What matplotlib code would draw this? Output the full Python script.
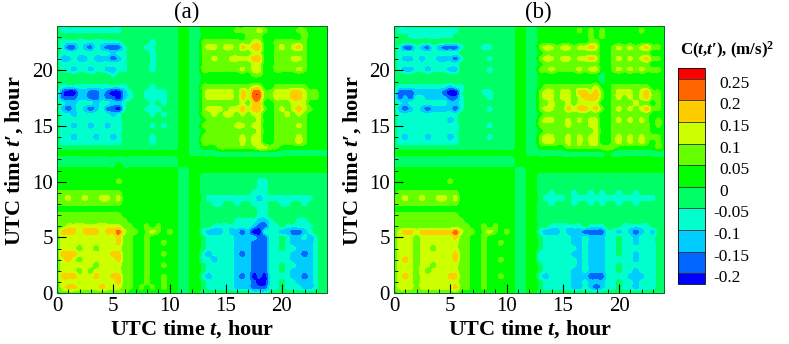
import numpy as np
import matplotlib
matplotlib.use("Agg")
import matplotlib.pyplot as plt
from matplotlib.colors import ListedColormap, BoundaryNorm
from matplotlib.ticker import MultipleLocator
from matplotlib.transforms import ScaledTranslation

plt.rcParams['font.family'] = ['Liberation Serif', 'DejaVu Serif']
plt.rcParams['mathtext.fontset'] = 'custom'
plt.rcParams['mathtext.rm'] = 'Liberation Serif:bold'
plt.rcParams['mathtext.it'] = 'Liberation Serif:italic:bold'
plt.rcParams['mathtext.bf'] = 'Liberation Serif:bold'

# colour class, one row per half hour of t' (0 at the bottom)
# 0 = below -0.2, 1 = -0.2..-0.15, ... 5 = 0..0.05, ... 9 = 0.2..0.25, A = above 0.25
# groups: t 0-7 | 7.5-10.5 | 11-12.5 | 13-24
rows_a = [
    "566666666666655 5555555 4455 44444444433344444444444",
    "678877778777665 6565655 4455 43333322211133433322344",
    "677777777778665 5655655 4455 43333322210033433222344",
    "688877787788665 5655655 4455 32333321201033332212344",
    "677767677777665 5655555 4455 43333322211133432222344",
    "677777767777665 5655655 4455 43333322211133433222344",
    "678767777778665 5655555 4455 33233322211133332222344",
    "688877777788665 5655655 4455 32333321211133332212344",
    "677767767777665 5655555 4455 43333322211133433222344",
    "677777777778665 5655655 4455 43333322211133432222344",
    "677777777778665 5655555 4455 43333322221133432232344",
    "688878887889766 5676565 4455 32223221200333221123444",
    "667777777777665 5656555 4455 44333333321133433333444",
    "666666666666655 5555555 4455 44444433332234444334444",
    "666666666666555 5555555 4455 44444444443344444444444",
    "555555555555555 5555555 4455 44444444443344444444444",
    "666666666666555 5555555 4455 44334434433344334434444",
    "667667667767555 5555555 4455 43333333332333333333444",
    "666666666666555 5555555 4455 44444444433344444444444",
    "555555555555555 5555555 4455 44444444443344444444444",
    "555555555556555 5555555 4455 44444444443344444444444",
    "555555555555555 5555555 4455 44444444444444444444444",
    "555555555555555 5555555 4455 55555555555555555555555",
    "444444444445444 4444444 5555 55555555555555555555555",
    "444444444444444 4444444 5555 55555555555555555555555",
    "555555555555555 5555555 5544 44444444444444444444444",
    "444444444444444 4444444 5544 55566666667766555555555",
    "433333333333444 4434444 5544 66666667677556666765555",
    "433233323323444 4434444 5544 66666667677556666765555",
    "433333333333444 4444444 5544 56666666667556666665555",
    "433233233233444 4434344 5544 66666677677556666765555",
    "433333333333444 4444444 5544 56666666667556666665555",
    "433233333323444 4434344 5544 66767767677556676765555",
    "421232123110344 4333444 5544 67776778788656767876555",
    "432233323322344 4434344 5544 66666667688556667775555",
    "311122112110234 4333344 5544 67777768799667778876655",
    "410022112100234 4333344 5544 67777768799667778876655",
    "433333333333344 4434444 5544 66666666677556666665555",
    "444444444444444 4444444 5544 55555555555555555555555",
    "444444444434444 4444444 5544 55555555566555555555555",
    "433233233223344 4434444 5544 66666667677556666765555",
    "433333333333344 4434444 5544 66666666677556666665555",
    "422322322212344 4434444 5544 66766777788556667765555",
    "433333333323344 4434444 5544 66666666677556666665555",
    "431132132111344 4334444 5544 67767768788556767865555",
    "433333333333444 4434444 5544 66666666677556666665555",
    "444444444444444 4444444 5544 55555555666555555565555",
    "433333333333444 4444444 5544 55555566667655555665555",
    "444444444444444 4444444 5544 55555555666555555555555",
]

rows_b = [
    "566666666666555 5555555 4455 44444444444444444444444",
    "677767777778665 5655555 4455 43333322321233433233344",
    "677767777777665 5655555 4455 43333322322233433233344",
    "678767777788665 5655655 4455 32333322211133332223344",
    "677767677777665 5655555 4455 43333322322233433233344",
    "677767767777665 5655555 4455 43333332322233433333344",
    "678767777778665 5655655 4455 33333332322233333233344",
    "677767777778665 5655555 4455 33333322322233433233344",
    "677767767777665 5655555 4455 43333332322233433333344",
    "677767777777665 5655655 4455 43333322322233433233344",
    "677767777778665 5655555 4455 43333322322233433233344",
    "678878888889766 5676565 4455 32223222111133232123244",
    "666666666666665 5656555 4455 44333333433344433333444",
    "666666666666655 5555555 4455 44444444444444444444444",
    "666666666666555 5555555 4455 44444444444444444444444",
    "555555555555555 5555555 4455 44444444444444444444444",
    "666666666666555 5555555 4455 44344434434344344344444",
    "667667667767555 5555555 4455 43333433333333333333344",
    "566666666666555 5555555 4455 44344434434344344344444",
    "555555555555555 5555555 4455 44444444444444444444444",
    "555555555565555 5555555 4455 44444444444444444444444",
    "555555555555555 5555555 4455 44444444444444444444444",
    "555555555555555 5555555 4455 55555555555555555555555",
    "444444444444444 4444444 5555 55555555555555555555555",
    "444444444444444 4444444 5555 55555555555555555555555",
    "555555555555555 5555555 5544 44444444444454444444444",
    "444444444444444 4444444 5544 55555666666666555555565",
    "433333333333444 4444444 5544 67766767677556767676565",
    "432333233323444 4434444 5544 67766767677556767676665",
    "433333333333444 4444444 5544 56666666667556666666555",
    "433333333333444 4434444 5544 66666766677556666666565",
    "433333333323444 4444444 5544 67766767677556767676565",
    "433333333333444 4444444 5544 56666666666556666666555",
    "421232122221344 4434444 5544 67766878878656767678665",
    "432333333322344 4444444 5544 66766767777556666766565",
    "312133222211344 4434444 5544 67767767888656767678665",
    "411122222100344 4334444 5544 67767768878656777678665",
    "433333333323344 4444444 5544 56666666667556666666555",
    "444444444444444 4444444 5544 55555555555455555555555",
    "444444444444444 4444444 5544 55555555555455555555555",
    "432233233322444 4434444 5544 66766667677556767676665",
    "433333333333444 4444444 5544 56666666666556666666555",
    "432232332221344 4434444 5544 67767767787556767678665",
    "433333333333444 4444444 5544 56666666666556666666555",
    "431132132111344 4334444 5544 67767767787556767678665",
    "444444444444444 4444444 5544 55555555566555555555555",
    "444333333334444 4444444 5544 55555555565655555555555",
    "433333333333444 4444444 5544 55555556565655555565555",
    "444444444444444 4444444 5544 55555555555555555555555",
]

levels = [-0.225, -0.2, -0.15, -0.1, -0.05, 0, 0.05, 0.1, 0.15, 0.2, 0.25, 0.275]
colors = ['#0000ff', '#0066ff', '#00ccff', '#00ffcc', '#00ff66', '#00ff00',
          '#66ff00', '#ccff00', '#ffcc00', '#ff6600', '#ff0000']
cbar_ticks = [-0.2, -0.15, -0.1, -0.05, 0, 0.05, 0.1, 0.15, 0.2, 0.25]
cbar_labels = ['-0.2', '-0.15', '-0.1', '-0.05', '0', '0.05', '0.1', '0.15', '0.2', '0.25']

W, H = 789, 344


def to_values(rows):
    # colour class -> middle of that class
    out = []
    for k, r in enumerate(rows):
        r = r.replace(' ', '')
        assert len(r) == 49, (k, len(r), r)
        out.append([-0.225 + 0.05 * int(c, 16) for c in r])
    return np.array(out)


def px_axes(x0, x1, y0, y1):
    return fig.add_axes([x0 / W, 1 - y1 / H, (x1 - x0) / W, (y1 - y0) / H])


cmap = ListedColormap(colors)
cmap.set_under(colors[0])
cmap.set_over(colors[-1])
norm = BoundaryNorm(levels, cmap.N)


def panel(ax, rows):
    # catrom goes through the data points, so the single spots stay in the picture
    im = ax.imshow(to_values(rows), origin='lower', extent=(-0.25, 24.25, -0.25, 24.25),
                   cmap=cmap, norm=norm, aspect='auto',
                   interpolation='catrom', interpolation_stage='data')
    ax.set_xlim(0, 24)
    ax.set_ylim(0, 24)
    ax.xaxis.set_major_locator(MultipleLocator(5))
    ax.yaxis.set_major_locator(MultipleLocator(5))
    ax.xaxis.set_minor_locator(MultipleLocator(1))
    ax.yaxis.set_minor_locator(MultipleLocator(1))
    ax.tick_params(which='major', direction='in', length=6.5, width=0.8, labelsize=15, pad=3)
    ax.tick_params(which='minor', direction='in', length=3, width=0.6)
    for s in ax.spines.values():
        s.set_linewidth(0.7)
        s.set_color('#106030')
    return im


def label(x, y, s, size=16, **kw):
    fig.text(x / W, 1 - y / H, s, fontsize=size, ha='center', va='center', **kw)


fig = plt.figure(figsize=(W / 100, H / 100), dpi=100)

ax1 = px_axes(57, 327, 26, 293)
ax2 = px_axes(394, 664, 26, 293)
im = panel(ax1, rows_a)
panel(ax2, rows_b)

label(187, 12, '(a)', size=16.5)
label(538, 12, '(b)', size=16.5)
label(192, 329, r'UTC time $\mathit{t}$, hour', fontweight='bold')
label(530, 329, r'UTC time $\mathit{t}$, hour', fontweight='bold')
label(14, 161, 'UTC time $\\mathit{t}$\u2032, hour', fontweight='bold', rotation=90)
label(352, 161, 'UTC time $\\mathit{t}$\u2032, hour', fontweight='bold', rotation=90)
label(727, 50, 'C($\\mathit{t}$,$\\mathit{t}$\u2032), (m/s)$^2$', size=12.2, fontweight='bold')

# colour bar
cax = px_axes(678, 705, 68, 284)
cb = fig.colorbar(im, cax=cax, ticks=cbar_ticks, drawedges=True, spacing='proportional')
cb.set_ticklabels(cbar_labels)
cb.dividers.set_color('#303030')
cb.dividers.set_linewidth(0.6)
cb.outline.set_linewidth(0.6)
cax.tick_params(length=0, labelsize=12.5)
cax.minorticks_off()
# minus signs hang to the left of the digits, and the labels sit a bit under their edge
shift = ScaledTranslation(0, -3 / 100, fig.dpi_scale_trans)
for tick, val in zip(cax.yaxis.get_major_ticks(), cbar_ticks):
    tick.set_pad(6 if val < 0 else 10)
    tick.label2.set_transform(tick.label2.get_transform() + shift)

fig.savefig('out.png', dpi=100)
